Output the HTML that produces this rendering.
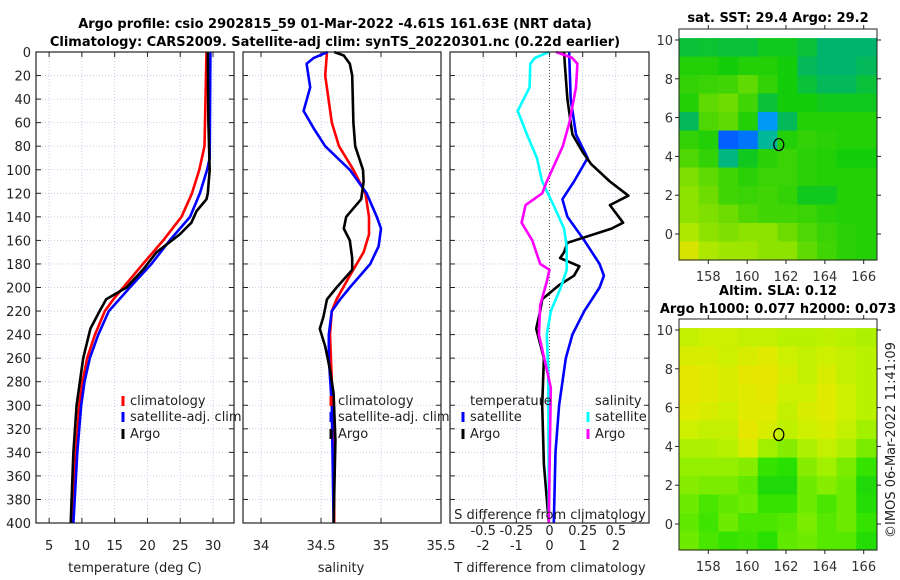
<!DOCTYPE html>
<html><head><meta charset="utf-8">
<style>
html,body{margin:0;padding:0;background:#fff;}
svg{display:block;font-family:"DejaVu Sans","Liberation Sans",sans-serif;}
</style></head>
<body>
<svg id="fig" width="900" height="580" viewBox="0 0 900 580" xmlns="http://www.w3.org/2000/svg">
<text x="335" y="28" font-size="13" font-weight="bold" text-anchor="middle">Argo profile: csio 2902815_59 01-Mar-2022 -4.61S 161.63E (NRT data)</text>
<text x="335" y="46" font-size="13" font-weight="bold" text-anchor="middle">Climatology: CARS2009. Satellite-adj clim: synTS_20220301.nc (0.22d earlier)</text>
<g id="p1"></g>
<g id="p2"></g>
<g id="p3"></g>
<g id="m1"></g>
<g id="m2"></g>
<text x="778" y="22" font-size="13" font-weight="bold" text-anchor="middle">sat. SST: 29.4 Argo: 29.2</text>
<text x="778" y="295" font-size="13" font-weight="bold" text-anchor="middle">Altim. SLA: 0.12</text>
<text x="778" y="313" font-size="13" font-weight="bold" text-anchor="middle">Argo h1000: 0.077 h2000: 0.073</text>
<text transform="translate(895,440) rotate(-90)" font-size="13" text-anchor="middle" fill="#222">©IMOS 06-Mar-2022 11:41:09</text>
</svg>
<script>
// ---- temperature panel data ----
const tClimDepth=[0,80,100,120,140,160,180,200,210,220,240,260,280,300,340,400];
const tClimVal=[29.0,28.7,27.9,26.8,25.2,22.4,19.3,16.3,14.8,13.5,12.0,10.8,10.1,9.6,9.1,8.4];
const tSatDepth=[0,90,100,120,140,160,180,200,220,240,260,280,300,340,400];
const tSatVal=[29.6,29.5,29.1,28.0,26.5,23.4,20.6,17.3,14.1,12.5,11.2,10.4,9.9,9.3,8.7];
const tArgoDepth=[0,60,100,120,125,135,145,155,170,185,200,210,220,235,260,300,340,400];
const tArgoVal=[29.2,29.3,29.5,29.2,29.0,27.5,26.7,24.9,21.4,19.3,16.8,13.7,12.7,11.3,10.2,9.2,8.7,8.3];
// ---- salinity panel data ----
const sClimDepth=[0,20,60,80,100,120,140,155,170,190,210,220,240,280,320,400];
const sClimVal=[34.55,34.535,34.59,34.65,34.77,34.87,34.90,34.90,34.855,34.74,34.63,34.59,34.575,34.59,34.61,34.61];
const sSatDepth=[0,5,10,30,50,65,80,100,120,140,150,165,180,200,210,220,240,260,300,400];
const sSatVal=[34.555,34.44,34.38,34.41,34.355,34.44,34.535,34.74,34.88,34.965,35.0,34.98,34.91,34.74,34.66,34.59,34.565,34.565,34.59,34.605];
const sArgoDepth=[0,3,10,20,60,80,100,110,125,140,150,160,175,185,200,210,225,235,250,270,290,330,400];
const sArgoVal=[34.61,34.69,34.74,34.76,34.77,34.785,34.85,34.855,34.835,34.71,34.69,34.74,34.76,34.76,34.63,34.55,34.52,34.49,34.535,34.575,34.605,34.62,34.605];
// ---- difference panel data ----
const dTSatDepth=[0,40,70,90,110,125,140,160,180,190,200,220,240,260,300,340,400];
const dTSatVal=[0.59,0.64,0.8,1.15,0.74,0.39,0.54,1.05,1.51,1.64,1.51,1.05,0.69,0.49,0.29,0.18,0.13];
const dTArgoDepth=[0,10,40,70,85,95,110,122,130,145,150,162,170,175,182,190,198,210,220,235,260,300,350,400];
const dTArgoVal=[0.44,0.46,0.54,0.69,1.0,1.25,1.82,2.38,1.82,2.22,1.87,0.54,0.44,0.32,0.9,0.74,0.29,-0.22,-0.28,-0.4,-0.17,-0.22,-0.17,-0.02];
const dSSatDepth=[0,5,10,30,50,70,90,110,130,150,165,185,200,220,240,270,400];
const dSSatVal=[-0.005,-0.11,-0.145,-0.15,-0.24,-0.17,-0.095,-0.055,0.03,0.11,0.13,0.13,0.085,0.01,-0.02,-0.01,-0.005];
const dSArgoDepth=[0,5,10,30,60,80,110,120,130,145,160,180,185,195,215,240,260,285,400];
const dSArgoVal=[0.05,0.17,0.21,0.2,0.15,0.1,-0.02,-0.055,-0.18,-0.21,-0.13,-0.07,0,-0.02,-0.07,-0.08,-0.04,0.01,-0.005];
// ---- axis ticks ----
const depthTicks=[0,20,40,60,80,100,120,140,160,180,200,220,240,260,280,300,320,340,360,380,400];
const tempTicks=[5,10,15,20,25,30];
const salTicks=[34,34.5,35,35.5];
const salTickLabels=["34","34.5","35","35.5"];
const dTTicks=[-2,-1,0,1,2];
const dSTicks=[-0.5,-0.25,0,0.25,0.5];
const dSTickLabels=["-0.5","-0.25","0","0.25","0.5"];
const latTicks=[0,2,4,6,8,10];
const lonTicks=[158,160,162,164,166];
// ---- map data (rows: lat 10 -> -1, cols: lon 157 -> 166) ----
const sstGrid=[
[0.55,0.56,0.55,0.55,0.58,0.58,0.55,0.5,0.5,0.5],
[0.62,0.62,0.6,0.62,0.62,0.6,0.52,0.5,0.5,0.52],
[0.64,0.65,0.66,0.7,0.64,0.6,0.55,0.52,0.52,0.55],
[0.62,0.7,0.72,0.66,0.55,0.6,0.6,0.58,0.58,0.58],
[0.52,0.68,0.7,0.62,0.3,0.52,0.62,0.62,0.62,0.62],
[0.64,0.62,0.22,0.25,0.45,0.62,0.64,0.63,0.62,0.62],
[0.68,0.64,0.48,0.58,0.63,0.65,0.63,0.62,0.6,0.6],
[0.74,0.7,0.66,0.63,0.65,0.65,0.63,0.62,0.62,0.62],
[0.76,0.72,0.66,0.65,0.66,0.64,0.58,0.58,0.62,0.62],
[0.76,0.74,0.72,0.68,0.66,0.66,0.65,0.63,0.62,0.62],
[0.8,0.76,0.74,0.76,0.76,0.72,0.68,0.65,0.63,0.62],
[0.9,0.8,0.78,0.78,0.76,0.76,0.7,0.66,0.63,0.62]];
const slaGrid=[
[0.86,0.88,0.88,0.86,0.86,0.84,0.84,0.85,0.84,0.82],
[0.9,0.9,0.88,0.9,0.92,0.88,0.86,0.88,0.86,0.84],
[0.94,0.92,0.9,0.94,0.95,0.9,0.86,0.9,0.86,0.84],
[0.94,0.92,0.9,0.92,0.94,0.88,0.88,0.92,0.88,0.84],
[0.92,0.9,0.88,0.92,0.92,0.86,0.9,0.92,0.88,0.84],
[0.88,0.86,0.86,0.94,0.9,0.85,0.88,0.9,0.86,0.8],
[0.82,0.82,0.84,0.9,0.8,0.76,0.82,0.86,0.82,0.74],
[0.78,0.78,0.78,0.76,0.62,0.6,0.76,0.8,0.74,0.62],
[0.76,0.74,0.74,0.7,0.56,0.56,0.72,0.76,0.72,0.56],
[0.72,0.66,0.7,0.72,0.62,0.62,0.72,0.66,0.72,0.58],
[0.7,0.64,0.72,0.66,0.66,0.68,0.74,0.68,0.72,0.62],
[0.72,0.66,0.62,0.64,0.6,0.7,0.72,0.68,0.68,0.58]];
const argoLon=161.63, argoLat=4.61;

const NS="http://www.w3.org/2000/svg";
function mk(parent,tag,attrs,text){const e=document.createElementNS(NS,tag);for(const k in attrs)e.setAttribute(k,attrs[k]);if(text!==undefined)e.textContent=text;parent.appendChild(e);return e;}
const Y0=52,Y1=523;
const yD=d=>Y0+(d/400)*(Y1-Y0);

function panel(g,x0,x1,xmin,xmax,showY){
  const xs=v=>x0+(v-xmin)/(xmax-xmin)*(x1-x0);
  depthTicks.forEach(d=>{
    const l=mk(g,'line',{x1:x0,x2:x1,y1:yD(d),y2:yD(d),stroke:'#b8c4e0','stroke-width':0.8,'stroke-dasharray':'1,2'});
    
    
    mk(g,'line',{x1:x0,x2:x0+5,y1:yD(d),y2:yD(d),stroke:'#222'});
    mk(g,'line',{x1:x1-5,x2:x1,y1:yD(d),y2:yD(d),stroke:'#222'});
    if(showY){const t=mk(g,'text',{x:x0-5,y:yD(d)+5,'font-size':13,'text-anchor':'end',fill:'#222'},String(d));
      
      }
  });
  return xs;
}
function vgrid(g,xs,vals,labels,y){
  vals.forEach((v,i)=>{
    const l=mk(g,'line',{x1:xs(v),x2:xs(v),y1:Y0,y2:Y1,stroke:'#b8c4e0','stroke-width':0.8,'stroke-dasharray':'1,2'});
    
    
    mk(g,'line',{x1:xs(v),x2:xs(v),y1:Y1-5,y2:Y1,stroke:'#222'});
    mk(g,'line',{x1:xs(v),x2:xs(v),y1:Y0,y2:Y0+5,stroke:'#222'});
    const t=mk(g,'text',{x:xs(v),y:y,'font-size':13,'text-anchor':'middle',fill:'#222'},labels[i]);
    
    
  });
}
function line(g,xs,depths,vals,color,name){
  const pts=depths.map((d,i)=>xs(vals[i]).toFixed(1)+','+yD(d).toFixed(1)).join(' ');
  const p=mk(g,'polyline',{points:pts,fill:'none',stroke:color,'stroke-width':2.6,'stroke-linejoin':'round'});
  
  
}
function frame(g,x0,x1){mk(g,'rect',{x:x0,y:Y0,width:x1-x0,height:Y1-Y0,fill:'none',stroke:'#222','stroke-width':1.2});}
function legend(g,x,y,color,label,name){
  mk(g,'line',{x1:x,x2:x,y1:y-9,y2:y+1,stroke:color,'stroke-width':3});
  const t=mk(g,'text',{x:x+7,y:y,'font-size':13,fill:'#222'},label);
  
  
}

// panel 1
const g1=document.getElementById('p1');
const xs1=panel(g1,36,234,3,33.2,true);
vgrid(g1,xs1,tempTicks,tempTicks.map(String),550);
line(g1,xs1,tClimDepth,tClimVal,'#ff0000','temp-climatology-line');
line(g1,xs1,tSatDepth,tSatVal,'#0000ff','temp-satellite-line');
line(g1,xs1,tArgoDepth,tArgoVal,'#000000','temp-argo-line');
frame(g1,36,234);
legend(g1,123,405,'#ff0000','climatology','legend-climatology');
legend(g1,123,421,'#0000ff','satellite-adj. clim','legend-satellite');
legend(g1,123,438,'#000000','Argo','legend-argo');
mk(g1,'text',{x:135,y:572,'font-size':13,'text-anchor':'middle',fill:'#222'},'temperature (deg C)');

// panel 2
const g2=document.getElementById('p2');
const xs2=panel(g2,243,441,33.85,35.5,false);
vgrid(g2,xs2,salTicks,salTickLabels,550);
line(g2,xs2,sClimDepth,sClimVal,'#ff0000','sal-climatology-line');
line(g2,xs2,sSatDepth,sSatVal,'#0000ff','sal-satellite-line');
line(g2,xs2,sArgoDepth,sArgoVal,'#000000','sal-argo-line');
frame(g2,243,441);
legend(g2,331,405,'#ff0000','climatology','legend-climatology');
legend(g2,331,421,'#0000ff','satellite-adj. clim','legend-satellite');
legend(g2,331,438,'#000000','Argo','legend-argo');
mk(g2,'text',{x:341,y:572,'font-size':13,'text-anchor':'middle',fill:'#222'},'salinity');

// panel 3
const g3=document.getElementById('p3');
const xs3=panel(g3,450,649,-3,3,false);
vgrid(g3,xs3,dTTicks,dTTicks.map(String),550);
const xs3s=v=>xs3(v*4);
mk(g3,'line',{x1:xs3(0),x2:xs3(0),y1:Y0,y2:Y1,stroke:'#555','stroke-width':1,'stroke-dasharray':'1,2'});
line(g3,xs3,dTSatDepth,dTSatVal,'#0000ff','tdiff-satellite-line');
line(g3,xs3,dTArgoDepth,dTArgoVal,'#000000','tdiff-argo-line');
line(g3,xs3s,dSSatDepth,dSSatVal,'#00ffff','sdiff-satellite-line');
line(g3,xs3s,dSArgoDepth,dSArgoVal,'#ff00ff','sdiff-argo-line');
frame(g3,450,649);
mk(g3,'text',{x:470,y:405,'font-size':13,fill:'#222'},'temperature');
mk(g3,'text',{x:595,y:405,'font-size':13,fill:'#222'},'salinity');
legend(g3,463,421,'#0000ff','satellite','legend-t-satellite');
legend(g3,463,438,'#000000','Argo','legend-t-argo');
legend(g3,588,421,'#00ffff','satellite','legend-s-satellite');
legend(g3,588,438,'#ff00ff','Argo','legend-s-argo');
mk(g3,'text',{x:550,y:519,'font-size':13,'text-anchor':'middle',fill:'#222'},'S difference from climatology');
dSTicks.forEach((v,i)=>{const t=mk(g3,'text',{x:xs3s(v),y:535,'font-size':13,'text-anchor':'middle',fill:'#222'},dSTickLabels[i]);
  
  });
mk(g3,'text',{x:550,y:572,'font-size':13,'text-anchor':'middle',fill:'#222'},'T difference from climatology');

// maps
const sstStops=[[0,[0,0,140]],[0.2,[0,80,255]],[0.35,[0,190,240]],[0.5,[0,180,110]],[0.6,[20,205,10]],[0.72,[110,220,0]],[0.82,[190,235,0]],[1,[245,220,0]]];
const slaStops=[[0.5,[20,205,20]],[0.6,[40,225,0]],[0.72,[110,235,0]],[0.84,[185,242,0]],[0.92,[225,235,0]],[1,[245,220,0]]];
function cmap(stops,v){
  if(v<=stops[0][0])return 'rgb('+stops[0][1].join(',')+')';
  for(let i=1;i<stops.length;i++){if(v<=stops[i][0]){const a=stops[i-1],b=stops[i];const t=(v-a[0])/(b[0]-a[0]);
    const c=a[1].map((x,k)=>Math.round(x+(b[1][k]-x)*t));return 'rgb('+c.join(',')+')';}}
  return 'rgb('+stops[stops.length-1][1].join(',')+')';
}
function map(id,top,bottom,lat10y,lat0y,grid,stops,lblY){
  const g=document.getElementById(id);
  const x0=679,x1=877;
  const lonX=lo=>708.3+(lo-158)*(863.7-708.3)/8;
  const latY=la=>lat0y+(la)*(lat10y-lat0y)/10;
  const rows=grid.length, cols=grid[0].length;
  const dataTop=latY(10.1), dataBot=bottom, dataL=x0, dataR=x1-1;
  const cw=(dataR-dataL)/cols, ch=(dataBot-dataTop)/rows;
  grid.forEach((row,r)=>row.forEach((v,c)=>{
    const e=mk(g,'rect',{x:(dataL+c*cw).toFixed(2),y:(dataTop+r*ch).toFixed(2),width:(cw+0.6).toFixed(2),height:(ch+0.6).toFixed(2),fill:cmap(stops,v)});
    
    
  }));
  mk(g,'rect',{x:x0,y:top,width:x1-x0,height:bottom-top,fill:'none',stroke:'#222','stroke-width':1});
  latTicks.forEach(la=>{
    mk(g,'line',{x1:x0-4,x2:x0,y1:latY(la),y2:latY(la),stroke:'#222'});
    mk(g,'line',{x1:x1,x2:x1+4,y1:latY(la),y2:latY(la),stroke:'#222'});
    const t=mk(g,'text',{x:x0-6,y:latY(la)+5,'font-size':13,'text-anchor':'end',fill:'#333'},String(la));
    
    
  });
  lonTicks.forEach(lo=>{
    mk(g,'line',{x1:lonX(lo),x2:lonX(lo),y1:bottom,y2:bottom+4,stroke:'#222'});
    mk(g,'line',{x1:lonX(lo),x2:lonX(lo),y1:top-4,y2:top,stroke:'#222'});
    const t=mk(g,'text',{x:lonX(lo),y:lblY,'font-size':13,'text-anchor':'middle',fill:'#333'},String(lo));
    
    
  });
  const c=mk(g,'ellipse',{cx:lonX(argoLon),cy:latY(argoLat),rx:5,ry:6,fill:'none',stroke:'#000','stroke-width':1.2});
  
  
}
map('m1',29,260,40,234,sstGrid,sstStops,281);
map('m2',319,550,330,524,slaGrid,slaStops,571);
</script>
</body></html>
